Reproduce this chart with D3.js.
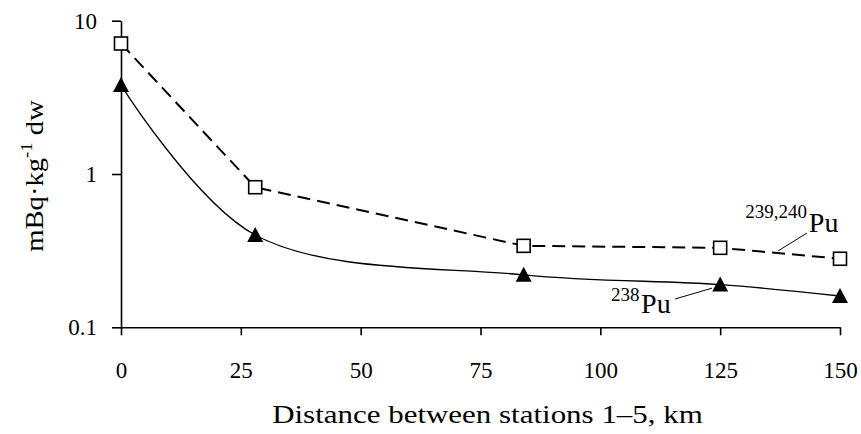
<!DOCTYPE html>
<html>
<head>
<meta charset="utf-8">
<script src="https://cdn.jsdelivr.net/npm/d3@7"></script>
<style>
  html, body { margin: 0; padding: 0; background: #fff; }
  svg { display: block; }
  svg text { font-family: "Liberation Serif", "Times New Roman", Times, "DejaVu Serif", serif !important; fill: #000; }
</style>
</head>
<body>
<svg id="chart" width="861" height="434"></svg>
<script>
// ---- data ----
const distance = [0, 28, 84, 125, 150];
const pu239240 = [7.1, 0.82, 0.34, 0.33, 0.28];
const pu238 = [3.8, 0.40, 0.22, 0.19, 0.16];
const xTicks = [0, 25, 50, 75, 100, 125, 150];
const yTicks = [0.1, 1, 10];
const yTickLabels = ["0.1", "1", "10"];
const xTitle = "Distance between stations 1\u20135, km";

const FONT = '"Liberation Serif", "Times New Roman", Times, "DejaVu Serif", serif';

// ---- layout ----
const svg = d3.select("#chart");
const x = d3.scaleLinear().domain([0, 150]).range([121, 840]);
const y = d3.scaleLog().domain([0.1, 10]).range([327.3, 20.7]);

// axes
const gx = svg.append("g").attr("transform", `translate(0,${y(0.1)})`)
  .call(d3.axisBottom(x).tickValues(xTicks).tickSize(8).tickSizeOuter(0).tickFormat(d3.format("d")));
gx.attr("font-family", FONT);
gx.selectAll("text").attr("y", 0).attr("dy", 0).attr("transform", "translate(0,51)")
  .attr("font-family", FONT).style("font-size", "23px");

const gy = svg.append("g").attr("transform", `translate(${x(0)},0)`)
  .call(d3.axisLeft(y).tickValues(yTicks).tickSize(9).tickSizeOuter(0)
    .tickFormat((d, i) => yTickLabels[i]));
gy.attr("font-family", FONT);
gy.selectAll("text").attr("x", -24).attr("dy", "0.33em")
  .attr("font-family", FONT).style("font-size", "23px");

svg.selectAll(".domain, .tick line").attr("stroke", "#000").attr("stroke-width", 1.6);

// lines
const pts239 = distance.map((d, i) => [x(d), y(pu239240[i])]);
const pts238 = distance.map((d, i) => [x(d), y(pu238[i])]);

svg.append("path").attr("d", d3.line().curve(d3.curveCatmullRom.alpha(0.5))(pts238))
  .attr("fill", "none").attr("stroke", "#000").attr("stroke-width", 1.3);

svg.append("path").attr("d", d3.line()(pts239))
  .attr("fill", "none").attr("stroke", "#000").attr("stroke-width", 2)
  .attr("stroke-dasharray", "13,7");

// markers
svg.selectAll(".tri").data(pts238).enter().append("path")
  .attr("d", d => `M${d[0]},${d[1] - 8}L${d[0] + 8},${d[1] + 7}L${d[0] - 8},${d[1] + 7}Z`)
  .attr("fill", "#000");

svg.selectAll(".sq").data(pts239).enter().append("rect")
  .attr("x", d => d[0] - 6.5).attr("y", d => d[1] - 6.5)
  .attr("width", 13).attr("height", 13)
  .attr("fill", "#fff").attr("stroke", "#000").attr("stroke-width", 1.6);

// annotations (in data units)
svg.append("line")
  .attr("x1", x(137.1)).attr("y1", y(0.315)).attr("x2", x(143.1)).attr("y2", y(0.412))
  .attr("stroke", "#000").attr("stroke-width", 1);
svg.append("line")
  .attr("x1", x(115.6)).attr("y1", y(0.153)).attr("x2", x(123.3)).attr("y2", y(0.180))
  .attr("stroke", "#000").attr("stroke-width", 1);

const t = (sx, sy, size, txt, anchor) => svg.append("text")
  .attr("x", sx).attr("y", sy).attr("text-anchor", anchor || "start")
  .attr("font-family", FONT).style("font-size", size + "px").text(txt);

t(x(143.1), 218, 19, "239,240", "end");
t(x(143.5), 232, 28, "Pu");
t(x(102.2), 301, 19, "238");
t(x(108.5), 313, 28, "Pu");

// titles
function stretch(sel, target, tx, ty, rot) {
  const w = sel.node().getBBox().width;
  const s = target / w;
  sel.attr("transform", `translate(${tx},${ty})${rot ? " rotate(" + rot + ")" : ""} scale(${s},1)`);
}

const xt = svg.append("text").attr("text-anchor", "middle").attr("x", 0).attr("y", 0)
  .attr("font-family", FONT).style("font-size", "26px").text(xTitle);
stretch(xt, 431, 487.5, 423, 0);

const yt = svg.append("text").attr("text-anchor", "middle").attr("x", 0).attr("y", 0)
  .attr("font-family", FONT).style("font-size", "26px");
yt.append("tspan").text("mBq\u00b7kg");
yt.append("tspan").attr("dy", -11).style("font-size", "17px").text("-1");
yt.append("tspan").attr("dy", 11).text(" dw");
stretch(yt, 152, 43, 176, -90);
</script>
</body>
</html>
